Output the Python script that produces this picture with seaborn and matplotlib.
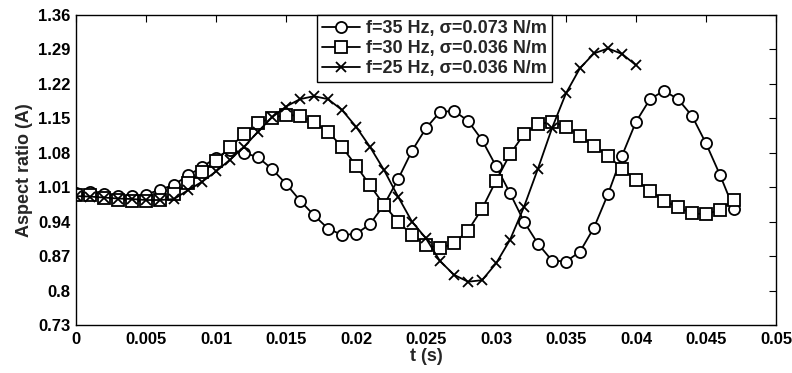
import numpy as np
import pandas as pd
import matplotlib
matplotlib.use("Agg")
import matplotlib.pyplot as plt
import seaborn as sns

# Sampling times (s): one sample per millisecond
t_35 = np.round(np.arange(48) * 0.001, 3)
t_30 = np.round(np.arange(48) * 0.001, 3)
t_25 = np.round(np.arange(41) * 0.001, 3)

# Aspect ratio A(t) for each forcing case
a_35 = [0.998, 1.000, 0.996, 0.993, 0.992, 0.995, 1.005, 1.015, 1.034, 1.051,
        1.070, 1.086, 1.080, 1.071, 1.047, 1.017, 0.983, 0.953, 0.926, 0.913,
        0.915, 0.935, 0.974, 1.026, 1.084, 1.130, 1.163, 1.165, 1.145, 1.106,
        1.053, 0.998, 0.940, 0.895, 0.861, 0.859, 0.879, 0.928, 0.996, 1.074,
        1.143, 1.189, 1.206, 1.189, 1.155, 1.099, 1.035, 0.965]
a_30 = [0.994, 0.994, 0.988, 0.985, 0.983, 0.981, 0.984, 0.996, 1.019, 1.040,
        1.064, 1.091, 1.118, 1.140, 1.151, 1.157, 1.155, 1.142, 1.123, 1.092,
        1.054, 1.014, 0.974, 0.940, 0.913, 0.893, 0.886, 0.896, 0.922, 0.966,
        1.023, 1.077, 1.118, 1.138, 1.143, 1.133, 1.115, 1.094, 1.074, 1.048,
        1.025, 1.003, 0.983, 0.969, 0.957, 0.955, 0.964, 0.985]
a_25 = [0.992, 0.991, 0.989, 0.987, 0.986, 0.984, 0.984, 0.986, 1.004, 1.021,
        1.042, 1.066, 1.092, 1.123, 1.152, 1.174, 1.189, 1.195, 1.189, 1.167,
        1.133, 1.092, 1.045, 0.991, 0.940, 0.906, 0.860, 0.832, 0.818, 0.821,
        0.855, 0.903, 0.970, 1.048, 1.130, 1.201, 1.252, 1.282, 1.292, 1.281,
        1.258]

labels = ["f=35 Hz, \u03c3=0.073 N/m",
          "f=30 Hz, \u03c3=0.036 N/m",
          "f=25 Hz, \u03c3=0.036 N/m"]

y_ticks = [0.73, 0.80, 0.87, 0.94, 1.01, 1.08, 1.15, 1.22, 1.29, 1.36]
y_tick_labels = ["0.73", "0.8", "0.87", "0.94", "1.01", "1.08", "1.15", "1.22", "1.29", "1.36"]
x_ticks = [0, 0.005, 0.01, 0.015, 0.02, 0.025, 0.03, 0.035, 0.04, 0.045, 0.05]
x_tick_labels = ["0", "0.005", "0.01", "0.015", "0.02", "0.025", "0.03", "0.035", "0.04", "0.045", "0.05"]

sns.set_style("white")
plt.rcParams["font.family"] = ["Liberation Sans", "DejaVu Sans"]
plt.rcParams["font.weight"] = "bold"

fig = plt.figure(figsize=(7.92, 3.73), dpi=100)
ax = fig.add_axes([76 / 792, 1 - 325 / 373, 700 / 792, 310 / 373])

series = [
    (t_35, a_35, labels[0], "o"),
    (t_30, a_30, labels[1], "s"),
    (t_25, a_25, labels[2], "x"),
]
for t, a, lab, mk in series:
    df = pd.DataFrame({"t": t, "A": a})
    kw = dict(marker=mk, markersize=8, markeredgewidth=1.3, markeredgecolor="black")
    if mk != "x":
        kw["markerfacecolor"] = "white"
    else:
        kw["markersize"] = 7
    sns.lineplot(data=df, x="t", y="A", ax=ax, color="black", linewidth=1.3,
                 label=lab, estimator=None, sort=False, **kw)

ax.set_xlim(0, 0.05)
ax.set_ylim(0.73, 1.36)
ax.set_xticks(x_ticks)
ax.set_xticklabels(x_tick_labels)
ax.set_yticks(y_ticks)
ax.set_yticklabels(y_tick_labels)
ax.tick_params(direction="in", length=5, width=0.8, top=True, right=True,
               labelsize=12, colors="black")
ax.tick_params(axis="x", pad=5)
ax.tick_params(axis="y", pad=4)
for lbl in ax.get_xticklabels() + ax.get_yticklabels():
    lbl.set_fontweight("bold")
for sp in ax.spines.values():
    sp.set_color("black")
    sp.set_linewidth(1.0)

ax.set_xlabel("t (s)", fontsize=13, fontweight="bold", labelpad=1)
ax.set_ylabel("Aspect ratio (A)", fontsize=13, fontweight="bold", labelpad=4)

leg = ax.legend(loc="upper left", bbox_to_anchor=((317 - 76) / 700, 1.0),
                frameon=True, fancybox=False, shadow=False, framealpha=1,
                edgecolor="black", prop={"size": 13, "weight": "bold"},
                handlelength=2.1, handletextpad=0.3, borderpad=0.3,
                labelspacing=0.15, borderaxespad=0)
leg.get_frame().set_linewidth(1.0)

fig.savefig("out.png", dpi=100, facecolor="white")
